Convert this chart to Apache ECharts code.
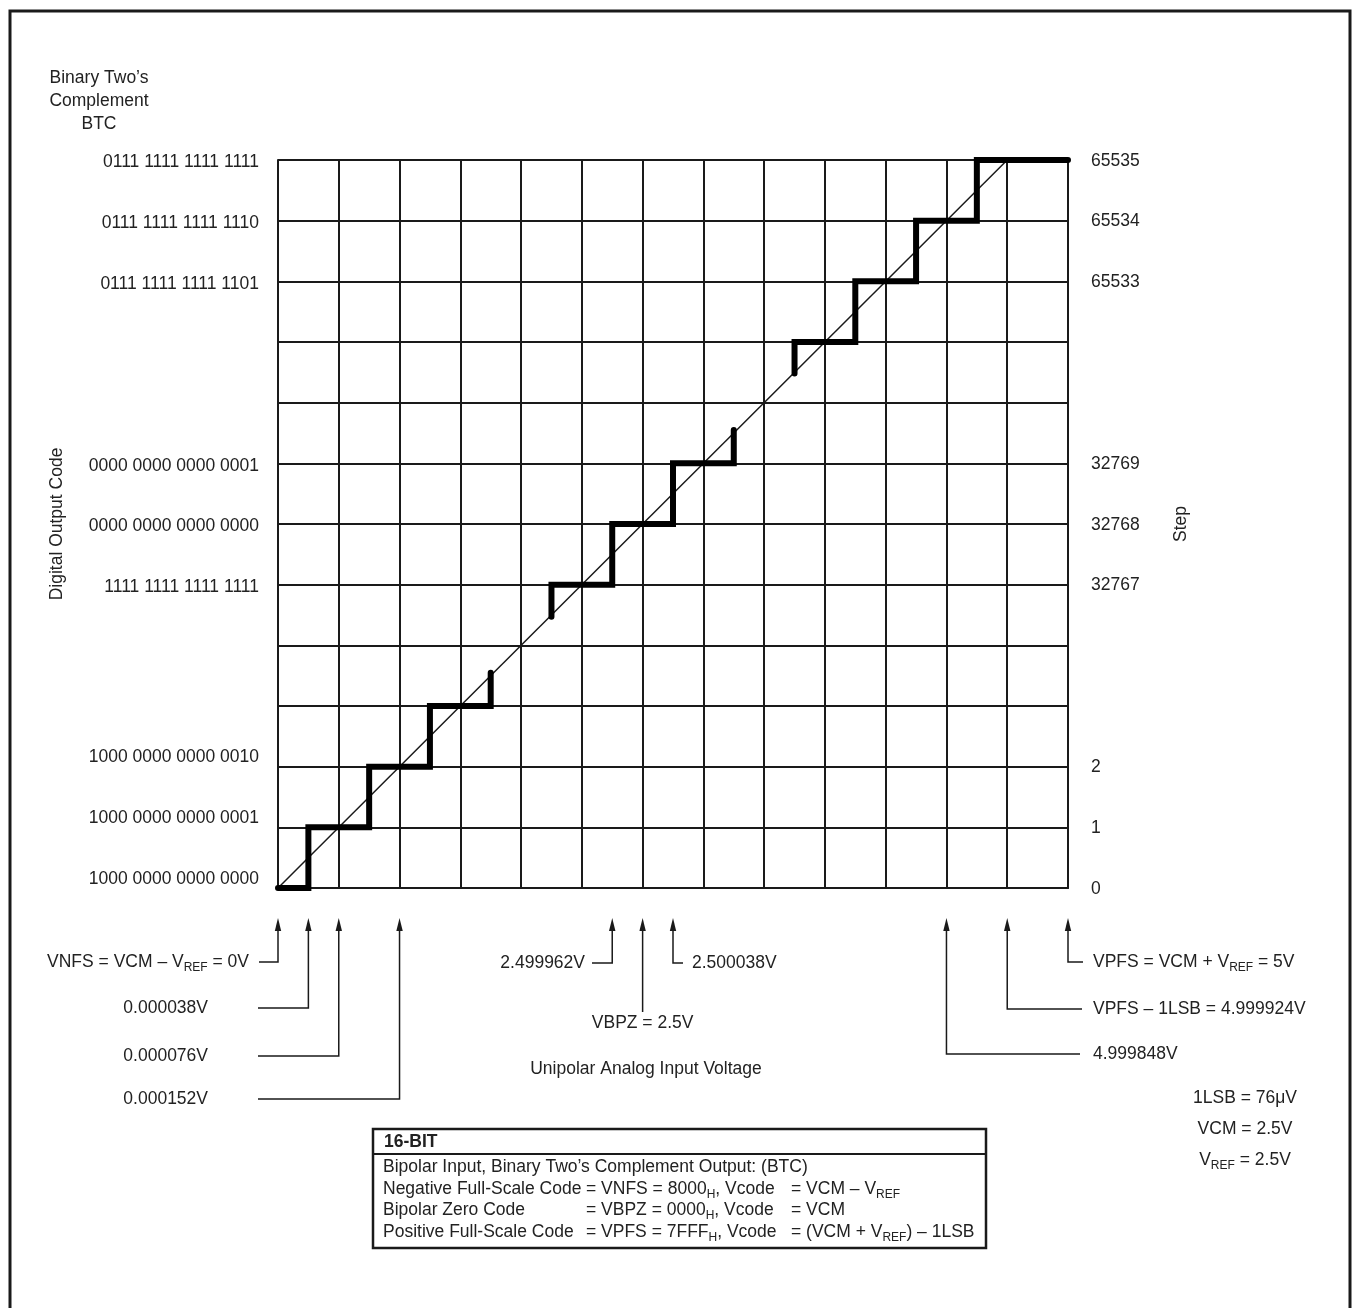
<!DOCTYPE html>
<html><head><meta charset="utf-8">
<script src="https://cdn.jsdelivr.net/npm/echarts@6/dist/echarts.min.js"></script>
<style>html,body{margin:0;padding:0;background:#fff}#c{width:1356px;height:1308px}</style>
</head><body><div id="c"></div>
<script>
const FONT = '"Liberation Sans", Arial, Helvetica, sans-serif';
const INK = '#1a1a1a';
const TXT = '#222';
const FS = 17.5;

// ---------- data ----------
const codeRows = [0, 1, 2, 5, 6, 7, 10, 11, 12];
const codeLabels = ['1000 0000 0000 0000', '1000 0000 0000 0001', '1000 0000 0000 0010',
  '1111 1111 1111 1111', '0000 0000 0000 0000', '0000 0000 0000 0001',
  '0111 1111 1111 1101', '0111 1111 1111 1110', '0111 1111 1111 1111'];
const stepLabels = ['0', '1', '2', '32767', '32768', '32769', '65533', '65534', '65535'];
const idealLine = [[0, 0], [12, 12]];
const stairLow = [[0, 0], [0.5, 0], [0.5, 1], [1.5, 1], [1.5, 2], [2.5, 2], [2.5, 3], [3.5, 3], [3.5, 3.55]];
const stairMid = [[4.5, 4.47], [4.5, 5], [5.5, 5], [5.5, 6], [6.5, 6], [6.5, 7], [7.5, 7], [7.5, 7.55]];
const stairHigh = [[8.5, 8.48], [8.5, 9], [9.5, 9], [9.5, 10], [10.5, 10], [10.5, 11], [11.5, 11], [11.5, 12], [13, 12]];
const markerX = [0, 0.5, 1, 2, 5.5, 6, 6.5, 11, 12, 13];
const markerLabels = ['VNFS = VCM – V{s|REF} = 0V', '0.000038V', '0.000076V', '0.000152V',
  '2.499962V', 'VBPZ = 2.5V', '2.500038V',
  '4.999848V', 'VPFS – 1LSB = 4.999924V', 'VPFS = VCM + V{s|REF} = 5V'];
const constantLabels = ['1LSB = 76μV', 'VCM = 2.5V', 'V{s|REF} = 2.5V'];
const titleLines = ['Binary Two’s', 'Complement', 'BTC'];
const boxHeader = '16-BIT';
const boxIntro = 'Bipolar Input, Binary Two’s Complement Output: (BTC)';
const boxNames = ['Negative Full-Scale Code', 'Bipolar Zero Code', 'Positive Full-Scale Code'];
const boxCodes = ['= VNFS = 8000{s|H}, Vcode', '= VBPZ = 0000{s|H}, Vcode', '= VPFS = 7FFF{s|H}, Vcode'];
const boxVoltages = ['= VCM – V{s|REF}', '= VCM', '= (VCM + V{s|REF}) – 1LSB'];

// ---------- layout (pixels) ----------
const markerLayout = [
  {dy: 74, leg: 259, tx: 249, align: 'right'},
  {dy: 120, leg: 258, tx: 208, align: 'right'},
  {dy: 168, leg: 258, tx: 208, align: 'right'},
  {dy: 211, leg: 258, tx: 208, align: 'right'},
  {dy: 75, leg: 592, tx: 585, align: 'right'},
  {dy: 124, leg: null, tx: null, ty: 135, align: 'center'},
  {dy: 75, leg: 683, tx: 692, align: 'left'},
  {dy: 166, leg: 1080, tx: 1093, align: 'left'},
  {dy: 121, leg: 1082, tx: 1093, align: 'left'},
  {dy: 74, leg: 1083, tx: 1093, align: 'left'}
];
const SUB = {s: {fontSize: 12, lineHeight: 12, padding: [12, 0, 0, 0], fontFamily: FONT, fill: TXT, color: TXT}};

function txt(text, x, y, align, extra) {
  return {
    type: 'text', silent: true,
    style: Object.assign({
      text: text, x: x, y: y, fill: TXT, fontSize: FS, fontFamily: FONT, lineHeight: 24,
      align: align, verticalAlign: 'middle', textAlign: align, textVerticalAlign: 'middle', rich: SUB
    }, extra || {})
  };
}

const chart = echarts.init(document.getElementById('c'), null, {renderer: 'canvas'});

const gridLine = {show: true, lineStyle: {color: INK, width: 2}};
const titleY = [78, 101, 124];
const boxRowsY = [1189, 1210, 1232];
const boxCodeX = 586;
const boxVoltX = 791;
const constY = [1098, 1129, 1160];

const graphics = [
  {type: 'rect', silent: true, shape: {x: 10, y: 11, width: 1340, height: 1400}, style: {fill: null, stroke: INK, lineWidth: 3}},
  {type: 'rect', silent: true, shape: {x: 373, y: 1129, width: 613, height: 119}, style: {fill: '#fff', stroke: INK, lineWidth: 2.5}},
  {type: 'line', silent: true, shape: {x1: 373, y1: 1154, x2: 986, y2: 1154}, style: {stroke: INK, lineWidth: 2}},
  txt(boxHeader, 384, 1142, 'left', {fontWeight: 'bold'}),
  txt(boxIntro, 383, 1167, 'left')
];
titleLines.forEach((t, i) => graphics.push(txt(t, 99, titleY[i], 'center')));
boxNames.forEach((n, i) => {
  graphics.push(txt(n, 383, boxRowsY[i], 'left'));
  graphics.push(txt(boxCodes[i], boxCodeX, boxRowsY[i], 'left'));
  graphics.push(txt(boxVoltages[i], boxVoltX, boxRowsY[i], 'left'));
});
constantLabels.forEach((t, i) => graphics.push(txt(t, 1245, constY[i], 'center')));

const option = {
  animation: false,
  backgroundColor: '#fff',
  textStyle: {fontFamily: FONT, color: TXT},
  grid: {left: 278, right: 288, top: 160, bottom: 420, containLabel: false},
  xAxis: {
    type: 'value', min: 0, max: 13, interval: 1,
    axisLine: {show: true, lineStyle: {color: INK, width: 2}},
    axisTick: {show: false}, axisLabel: {show: false},
    splitLine: gridLine,
    name: 'Unipolar Analog Input Voltage', nameLocation: 'middle', nameGap: 172,
    nameTextStyle: {fontSize: FS, color: TXT, fontFamily: FONT, padding: [0, 54, 0, 0]}
  },
  yAxis: [
    {
      type: 'value', min: 0, max: 12, interval: 1, position: 'left',
      axisLine: {show: true, lineStyle: {color: INK, width: 2}},
      axisTick: {show: false}, splitLine: gridLine,
      axisLabel: {
        show: true, margin: 19, fontSize: FS, color: TXT, fontFamily: FONT,
        formatter: v => {
          const k = codeRows.indexOf(Math.round(v));
          if (k < 0) return '';
          return v <= 2 ? '{lo|' + codeLabels[k] + '}' : '{n|' + codeLabels[k] + '}';
        },
        rich: {
          lo: {fontSize: FS, color: TXT, fontFamily: FONT, padding: [0, 0, 18, 0]},
          n: {fontSize: FS, color: TXT, fontFamily: FONT, padding: [5, 0, 0, 0]}
        }
      },
      name: 'Digital Output Code', nameLocation: 'middle', nameGap: 212, nameRotate: 90,
      nameTextStyle: {fontSize: FS, color: TXT, fontFamily: FONT}
    },
    {
      type: 'value', min: 0, max: 12, interval: 1, position: 'right',
      axisLine: {show: true, lineStyle: {color: INK, width: 2}},
      axisTick: {show: false}, splitLine: {show: false},
      axisLabel: {
        show: true, margin: 23, fontSize: FS, color: TXT, fontFamily: FONT,
        formatter: v => {
          const k = codeRows.indexOf(Math.round(v));
          return k < 0 ? '' : '{n|' + stepLabels[k] + '}';
        },
        rich: {n: {fontSize: FS, color: TXT, fontFamily: FONT, padding: [2, 0, 0, 0]}}
      },
      name: 'Step', nameLocation: 'middle', nameGap: 104, nameRotate: 90,
      nameTextStyle: {fontSize: FS, color: TXT, fontFamily: FONT}
    }
  ],
  series: [
    {type: 'line', data: idealLine, symbol: 'none', silent: true, clip: false,
      lineStyle: {color: INK, width: 1.5}},
    {type: 'line', data: stairLow, symbol: 'none', silent: true, clip: false,
      lineStyle: {color: '#000', width: 6, cap: 'round', join: 'miter'}},
    {type: 'line', data: stairMid, symbol: 'none', silent: true, clip: false,
      lineStyle: {color: '#000', width: 6, cap: 'round', join: 'miter'}},
    {type: 'line', data: stairHigh, symbol: 'none', silent: true, clip: false,
      lineStyle: {color: '#000', width: 6, cap: 'round', join: 'miter'}},
    {
      type: 'custom', clip: false, silent: true,
      data: markerX.map(v => [v, 0]),
      renderItem: (params, api) => {
        const i = params.dataIndex;
        const p = api.coord([api.value(0), 0]);
        const L = markerLayout[i];
        const x = p[0];
        const tipY = p[1] + 30;
        const elbowY = p[1] + L.dy;
        const pts = [[x, tipY + 10], [x, elbowY]];
        if (L.leg != null) pts.push([L.leg, elbowY]);
        const ty = L.ty != null ? p[1] + L.ty : elbowY;
        return {
          type: 'group',
          children: [
            {type: 'polyline', shape: {points: pts}, style: {stroke: INK, lineWidth: 1.5, fill: null}},
            {type: 'polygon', shape: {points: [[x, tipY], [x - 3.2, tipY + 13], [x + 3.2, tipY + 13]]}, style: {fill: INK}},
            {type: 'text', style: {
              text: markerLabels[i], x: L.tx != null ? L.tx : x, y: ty,
              fill: TXT, fontSize: FS, fontFamily: FONT, lineHeight: 24,
              align: L.align, verticalAlign: 'middle', textAlign: L.align, textVerticalAlign: 'middle',
              rich: SUB
            }}
          ]
        };
      }
    }
  ],
  graphic: graphics
};
chart.setOption(option);
</script>
</body></html>
